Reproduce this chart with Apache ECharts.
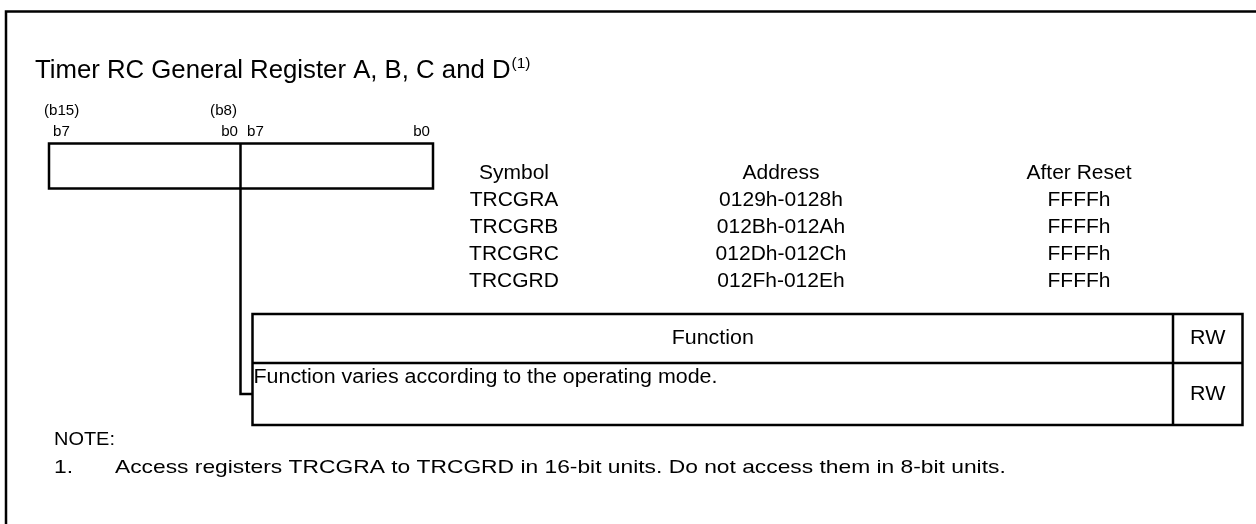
<!DOCTYPE html>
<html>
<head>
<meta charset="utf-8">
<script src="https://cdn.jsdelivr.net/npm/echarts@6/dist/echarts.min.js"></script>
<style>
html,body{margin:0;padding:0;background:#fff;}
#main{width:1256px;height:524px;}
</style>
</head>
<body>
<div id="main"></div>
<script>
// ---- data ----
var titleText = 'Timer RC General Register A, B, C and D';
var titleNote = '(1)';
var bitLabelsTop = ['(b15)', '(b8)'];
var bitLabelsBottom = ['b7', 'b0', 'b7', 'b0'];
var infoHeaders = ['Symbol', 'Address', 'After Reset'];
var symbols = ['TRCGRA', 'TRCGRB', 'TRCGRC', 'TRCGRD'];
var addresses = ['0129h-0128h', '012Bh-012Ah', '012Dh-012Ch', '012Fh-012Eh'];
var resetValues = ['FFFFh', 'FFFFh', 'FFFFh', 'FFFFh'];
var funcHeader = ['Function', 'RW'];
var funcRows = [['Function varies according to the operating mode.', 'RW']];
var noteTitle = 'NOTE:';
var notes = ['Access registers TRCGRA to TRCGRD in 16-bit units. Do not access them in 8-bit units.'];

// ---- layout ----
var FONT = '"Liberation Sans", Arial, sans-serif';
var L = {
  border: {x: 6, y: 11.5, lw: 2.5},
  title: {x: 35, y: 71, size: 25, sx: 1.03, supSize: 15, supDy: -7},
  bitTop: {y: 111.5, size: 14, sx: 1.08, xs: [44, 237], align: ['left', 'right']},
  bitBot: {y: 132, size: 14, sx: 1.08, xs: [53, 238, 247, 430], align: ['left', 'right', 'left', 'right']},
  box: {x0: 49, x1: 433, y0: 143.5, y1: 188.5, xd: 240.5, lw: 2.5},
  info: {cols: [514, 781, 1079], y0: 173, dy: 27, size: 20, sx: 1.05},
  ftab: {x0: 252.5, x1: 1242.5, xd: 1173, y0: 314, y1: 363, y2: 425, lw: 2.5, size: 20, sx: 1.07, rowTextDy: 14},
  conn: {y: 394},
  note: {x: 54, y: 440, lineY: 468, numX: 54, textX: 115, size: 19, titleSx: 1.05, sx: 1.2}
};

var chart = echarts.init(document.getElementById('main'), null, {renderer: 'canvas'});
var g = [];
function txt(x, y, s, size, sx, align, vAlign) {
  g.push({type: 'text', x: x, y: y, scaleX: sx || 1, silent: true,
    style: {text: s, x: 0, y: 0, fill: '#000', font: size + 'px ' + FONT, textAlign: align || 'left', textVerticalAlign: vAlign || 'middle'}});
}
function line(x1, y1, x2, y2, lw) {
  g.push({type: 'line', silent: true, shape: {x1: x1, y1: y1, x2: x2, y2: y2}, style: {stroke: '#000', lineWidth: lw}});
}
function poly(pts, lw) {
  g.push({type: 'polyline', silent: true, shape: {points: pts}, style: {stroke: '#000', lineWidth: lw, fill: null}});
}
function rect(x0, y0, x1, y1, lw) {
  g.push({type: 'rect', silent: true, shape: {x: x0, y: y0, width: x1 - x0, height: y1 - y0}, style: {stroke: '#000', lineWidth: lw, fill: null}});
}
var measure = document.createElement('canvas').getContext('2d');
function textW(s, size) { measure.font = size + 'px ' + FONT; return measure.measureText(s).width; }

// outer border
poly([[L.border.x, 524], [L.border.x, L.border.y], [1256, L.border.y]], L.border.lw);

// title
txt(L.title.x, L.title.y, titleText, L.title.size, L.title.sx, 'left');
var titleW = textW(titleText, L.title.size) * L.title.sx;
txt(L.title.x + titleW + 1, L.title.y + L.title.supDy, titleNote, L.title.supSize, L.title.sx, 'left');

// bit labels
bitLabelsTop.forEach(function (s, i) { txt(L.bitTop.xs[i], L.bitTop.y, s, L.bitTop.size, L.bitTop.sx, L.bitTop.align[i]); });
bitLabelsBottom.forEach(function (s, i) { txt(L.bitBot.xs[i], L.bitBot.y, s, L.bitBot.size, L.bitBot.sx, L.bitBot.align[i]); });

// register box
rect(L.box.x0, L.box.y0, L.box.x1, L.box.y1, L.box.lw);
line(L.box.xd, L.box.y0, L.box.xd, L.box.y1, L.box.lw);

// connector
poly([[L.box.xd, L.box.y1], [L.box.xd, L.conn.y], [L.ftab.x0, L.conn.y]], L.box.lw);

// info table
var I = L.info;
infoHeaders.forEach(function (s, i) { txt(I.cols[i], I.y0, s, I.size, I.sx, 'center'); });
symbols.forEach(function (s, r) {
  var y = I.y0 + I.dy * (r + 1);
  txt(I.cols[0], y, s, I.size, I.sx, 'center');
  txt(I.cols[1], y, addresses[r], I.size, I.sx, 'center');
  txt(I.cols[2], y, resetValues[r], I.size, I.sx, 'center');
});

// function table
var F = L.ftab;
rect(F.x0, F.y0, F.x1, F.y2, F.lw);
line(F.x0, F.y1, F.x1, F.y1, F.lw);
line(F.xd, F.y0, F.xd, F.y2, F.lw);
txt((F.x0 + F.xd) / 2, (F.y0 + F.y1) / 2, funcHeader[0], F.size, F.sx, 'center');
txt((F.xd + F.x1) / 2, (F.y0 + F.y1) / 2, funcHeader[1], F.size, F.sx, 'center');
funcRows.forEach(function (row) {
  txt(F.x0 + 1, F.y1 + F.rowTextDy, row[0], F.size, F.sx, 'left');
  txt((F.xd + F.x1) / 2, (F.y1 + F.y2) / 2, row[1], F.size, F.sx, 'center');
});

// notes
var N = L.note;
txt(N.x, N.y, noteTitle, N.size, N.titleSx, 'left');
notes.forEach(function (s, i) {
  txt(N.numX, N.lineY + i * 26, (i + 1) + '.', N.size, N.sx, 'left');
  txt(N.textX, N.lineY + i * 26, s, N.size, N.sx, 'left');
});

chart.setOption({animation: false, backgroundColor: '#fff', graphic: {elements: g}});
</script>
</body>
</html>
